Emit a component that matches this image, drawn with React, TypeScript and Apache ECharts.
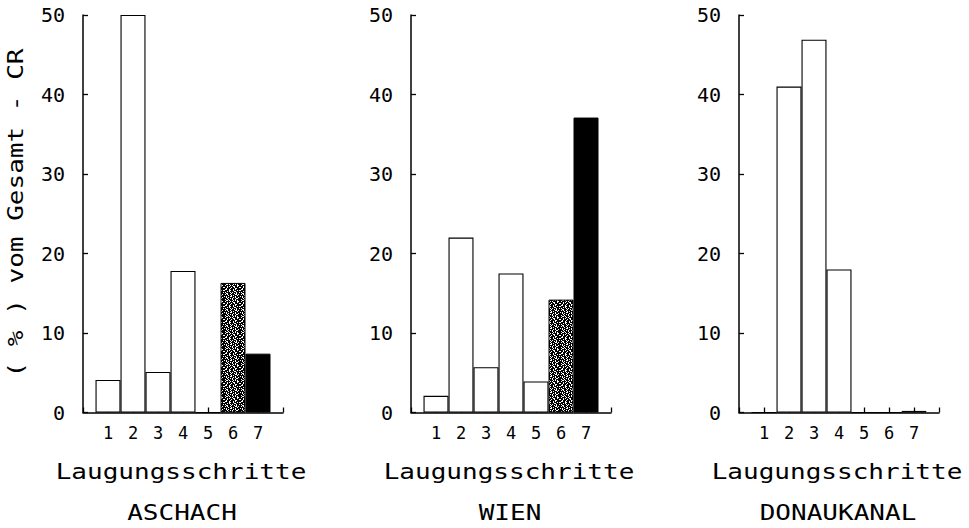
import React, { useEffect, useRef } from "react";
import * as echarts from "echarts";

// ---- data ----
const STEPS = ["1", "2", "3", "4", "5", "6", "7"];
const X_CATEGORIES = ["", ...STEPS, " "];
const Y_TICKS = [0, 10, 20, 30, 40, 50];
const ASCHACH = [4.1, 50, 5.1, 17.8, 0, 16.3, 7.4];
const WIEN = [2.1, 22.0, 5.7, 17.5, 3.9, 14.2, 37.1];
const DONAUKANAL = [0, 41.0, 46.9, 18.0, 0, 0, 0.2];
const STATIONS = ["ASCHACH", "WIEN", "DONAUKANAL"];
const X_TITLE = "Laugungsschritte";
const Y_TITLE = "( % ) vom Gesamt - CR";

const STIPPLE = [
  "##.###.####..###",
  "#..##.###.#.####",
  ".####..##.###.#.",
  "###.#.####..####",
  "#.####.#.###.##.",
  "##..###.##.#.###",
  "#.#.##.####..#.#",
  "####.##.#.###.##",
  ".#.###..###.####",
  "##.#.####.#.##.#",
  "###.##.#.###..##",
  "#.##.###.##.####",
  "##..#.###.#.#.##",
  "#.####.#.####..#",
  "###.#.###..##.##",
  ".##.###.##.####.",
];

const FONT = "DejaVu Sans Mono";

function makeStipple(): string {
  const n = 16;
  const c = document.createElement("canvas");
  c.width = n;
  c.height = n;
  const ctx = c.getContext("2d")!;
  ctx.fillStyle = "#000";
  ctx.fillRect(0, 0, n, n);
  ctx.fillStyle = "#fff";
  for (let y = 0; y < n; y++) {
    const row = STIPPLE[y] || "";
    for (let x = 0; x < n; x++) {
      if (row.charAt(x) === ".") ctx.fillRect(x, y, 1, 1);
    }
  }
  return c.toDataURL();
}

export default function App() {
  const ref = useRef<HTMLDivElement>(null);
  useEffect(() => {
    if (!ref.current) return;
    const chart = echarts.init(ref.current, null, { renderer: "svg" });
    const stipple = makeStipple();
    const panels = [ASCHACH, WIEN, DONAUKANAL];
    const lefts = [83, 411, 739];
    const gw = 200;

    const barStyle = (j: number) => {
      if (j === 5)
        return {
          color: { image: stipple, repeat: "repeat", imageWidth: 16, imageHeight: 16 },
          borderColor: "#000",
          borderWidth: 1,
        };
      if (j === 6) return { color: "#000", borderColor: "#000", borderWidth: 1 };
      return { color: "#fff", borderColor: "#000", borderWidth: 1.1 };
    };

    const grid = lefts.map((l) => ({ left: l, top: 15, width: gw, height: 397.5 }));
    const xAxis = lefts.map((_, i) => ({
      gridIndex: i,
      type: "category",
      data: X_CATEGORIES,
      boundaryGap: false,
      axisLine: { show: true, lineStyle: { color: "#000", width: 1.5 } },
      axisTick: { show: true, inside: true, length: 5, interval: 0, lineStyle: { color: "#000", width: 1.3 } },
      axisLabel: { interval: 0, margin: 12, fontSize: 17, fontFamily: FONT, color: "#000" },
      splitLine: { show: false },
    }));
    const yAxis = lefts.map((_, i) => ({
      gridIndex: i,
      type: "value",
      min: Y_TICKS[0],
      max: Y_TICKS[Y_TICKS.length - 1],
      interval: Y_TICKS[1] - Y_TICKS[0],
      axisLine: { show: true, lineStyle: { color: "#000", width: 1.5 } },
      axisTick: { show: true, inside: true, length: 5, lineStyle: { color: "#000", width: 1.3 } },
      axisLabel: { margin: 18, fontSize: 20, fontFamily: FONT, color: "#000" },
      splitLine: { show: false },
    }));
    const series = panels.map((vals, i) => ({
      type: "bar",
      name: STATIONS[i],
      xAxisIndex: i,
      yAxisIndex: i,
      barWidth: "100%",
      silent: true,
      data: vals.map((v, j) => ({ value: [STEPS[j], v], itemStyle: barStyle(j) })),
    }));

    const textStyle = (text: string) => ({
      text,
      fontFamily: FONT,
      fontSize: 21,
      fill: "#000",
      align: "center",
      verticalAlign: "middle",
    });
    const graphic: any[] = [];
    lefts.forEach((l, i) => {
      const cx = l + gw / 2;
      graphic.push({ type: "text", x: cx - 2, y: 472, scaleX: 1.24, style: textStyle(X_TITLE) });
      graphic.push({ type: "text", x: cx - 1, y: 513, scaleX: 1.24, style: textStyle(STATIONS[i]) });
    });
    graphic.push({
      type: "text",
      x: 16,
      y: 213,
      rotation: Math.PI / 2,
      scaleX: 1.24,
      style: textStyle(Y_TITLE),
    });

    chart.setOption({
      animation: false,
      backgroundColor: "#fff",
      grid,
      xAxis,
      yAxis,
      series,
      graphic,
    } as any);
    return () => chart.dispose();
  }, []);
  return (
    <div
      ref={ref}
      style={{ position: "absolute", left: 0, top: 0, width: 969, height: 528, background: "#fff" }}
    />
  );
}
